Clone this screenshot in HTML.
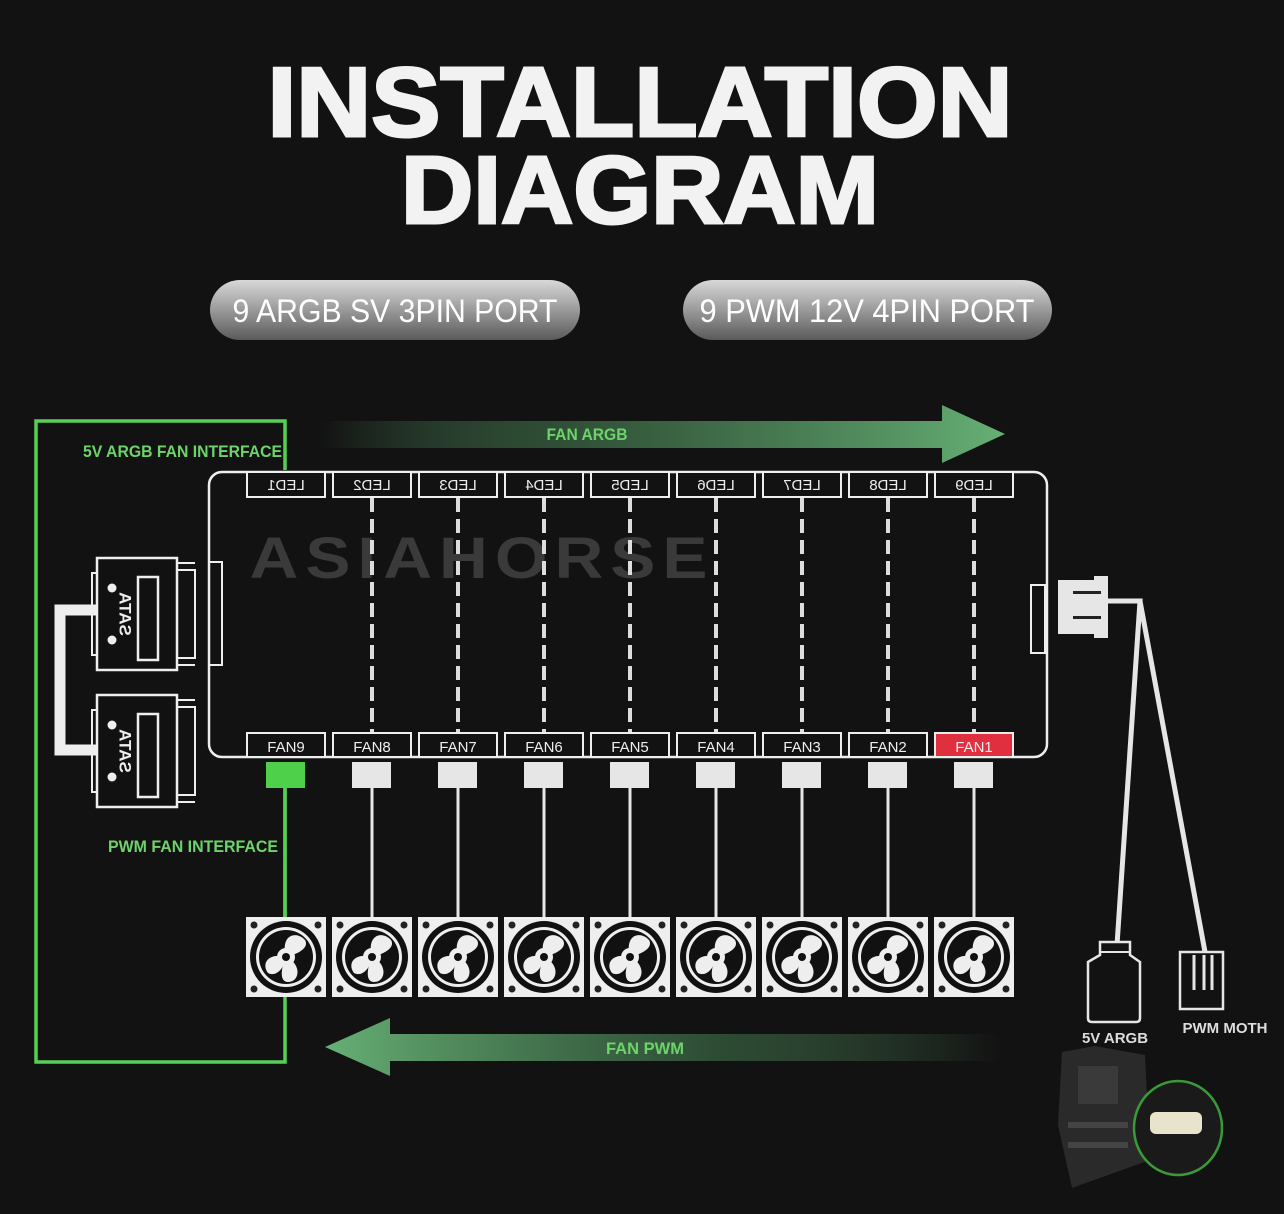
<!DOCTYPE html>
<html><head><meta charset="utf-8"><style>
html,body{margin:0;padding:0;background:#111;}
svg{display:block;}
text{font-family:"Liberation Sans",sans-serif;}
</style></head><body>
<svg width="1284" height="1214" viewBox="0 0 1284 1214" xmlns="http://www.w3.org/2000/svg">
<defs>
<linearGradient id="pill" x1="0" y1="0" x2="0" y2="1">
<stop offset="0" stop-color="#d8d8d8"/><stop offset="0.5" stop-color="#9a9a9a"/><stop offset="1" stop-color="#5a5a5a"/>
</linearGradient>
<linearGradient id="ar1" x1="0" y1="0" x2="1" y2="0">
<stop offset="0" stop-color="#5fa870" stop-opacity="0"/><stop offset="0.3" stop-color="#3e6e48" stop-opacity="0.6"/><stop offset="1" stop-color="#66b075"/>
</linearGradient>
<linearGradient id="ar2" x1="1" y1="0" x2="0" y2="0">
<stop offset="0" stop-color="#5fa870" stop-opacity="0"/><stop offset="0.4" stop-color="#3e6e48" stop-opacity="0.6"/><stop offset="1" stop-color="#66b075"/>
</linearGradient>
<g id="fan">
<rect x="-40" y="-40" width="80" height="80" fill="#eee"/>
<circle r="36" fill="#111"/>
<circle r="30" fill="#eee"/>
<circle r="27" fill="#111"/>
<path d="M0,0 C-6,-22 10,-27 19,-17 C23,-10 15,-4 0,0Z" fill="#eee"/>
<path d="M0,0 C-18,-5 -25,7 -18,16 C-11,20 -2,13 0,0Z" fill="#eee"/>
<path d="M0,0 C16,7 14,25 2,25 C-7,25 -5,11 0,0Z" fill="#eee"/>
<circle r="9" fill="#eee"/><circle r="4" fill="#111"/>
<circle cx="-32" cy="-32" r="3.5" fill="#222"/><circle cx="32" cy="-32" r="3.5" fill="#222"/>
<circle cx="-32" cy="32" r="3.5" fill="#222"/><circle cx="32" cy="32" r="3.5" fill="#222"/>
</g>
<g id="sata">
<rect x="0" y="0" width="80" height="112" fill="#111" stroke="#eee" stroke-width="2.5"/>
<rect x="-5" y="15" width="5" height="82" fill="none" stroke="#eee" stroke-width="2"/>
<rect x="41" y="19" width="20" height="83" fill="none" stroke="#eee" stroke-width="2.5"/>
<rect x="80" y="12" width="18" height="88" fill="none" stroke="#eee" stroke-width="2"/>
<line x1="80" y1="5" x2="98" y2="5" stroke="#eee" stroke-width="2"/>
<line x1="80" y1="107" x2="98" y2="107" stroke="#eee" stroke-width="2"/>
<circle cx="15" cy="30" r="4.5" fill="#eee"/><circle cx="15" cy="82" r="4.5" fill="#eee"/>
<text transform="translate(27,56) rotate(90) scale(-1,1)" font-size="17" font-weight="bold" fill="#eee" text-anchor="middle" dominant-baseline="middle">SATA</text>
</g>
</defs>
<rect width="1284" height="1214" fill="#121212"/>

<text x="640" y="136" font-size="98" font-weight="bold" fill="#f2f2f2" stroke="#f2f2f2" stroke-width="3" text-anchor="middle" textLength="745" lengthAdjust="spacingAndGlyphs">INSTALLATION</text>
<text x="640" y="223" font-size="96" font-weight="bold" fill="#f2f2f2" stroke="#f2f2f2" stroke-width="3" text-anchor="middle" textLength="478" lengthAdjust="spacingAndGlyphs">DIAGRAM</text>

<rect x="210" y="280" width="370" height="60" rx="30" fill="url(#pill)"/>
<text x="395" y="322" font-size="32" fill="#fff" text-anchor="middle" textLength="325" lengthAdjust="spacingAndGlyphs">9 ARGB SV 3PIN PORT</text>
<rect x="683" y="280" width="369" height="60" rx="30" fill="url(#pill)"/>
<text x="867" y="322" font-size="32" fill="#fff" text-anchor="middle" textLength="335" lengthAdjust="spacingAndGlyphs">9 PWM 12V 4PIN PORT</text>

<path d="M320,421 H942 V405 L1005,434 L942,463 V448 H320Z" fill="url(#ar1)"/>
<text x="587" y="440" font-size="17" font-weight="bold" fill="#6dd46a" text-anchor="middle" textLength="81" lengthAdjust="spacingAndGlyphs">FAN ARGB</text>
<path d="M1000,1034 H390 V1018 L325,1047 L390,1076 V1061 H1000Z" fill="url(#ar2)"/>
<text x="645" y="1054" font-size="17" font-weight="bold" fill="#6dd46a" text-anchor="middle" textLength="78" lengthAdjust="spacingAndGlyphs">FAN PWM</text>

<path d="M285,470 V421 H36 V1062 H285 V762" fill="none" stroke="#56d054" stroke-width="3.5"/>
<text x="282" y="457" font-size="17" font-weight="bold" fill="#6dd46a" text-anchor="end" textLength="199" lengthAdjust="spacingAndGlyphs">5V ARGB FAN INTERFACE</text>
<text x="278" y="852" font-size="17" font-weight="bold" fill="#6dd46a" text-anchor="end" textLength="170" lengthAdjust="spacingAndGlyphs">PWM FAN INTERFACE</text>

<path d="M97,610 H60 V750 H97" fill="none" stroke="#eee" stroke-width="11"/>
<use href="#sata" x="97" y="558"/>
<use href="#sata" x="97" y="695"/>

<rect x="209" y="472" width="838" height="285" rx="13" fill="#121212" stroke="#eee" stroke-width="2.5"/>
<rect x="209" y="562" width="13" height="103" fill="none" stroke="#eee" stroke-width="2"/>
<rect x="1031" y="585" width="14" height="68" fill="none" stroke="#eee" stroke-width="2"/>
<text x="482" y="578" font-size="58" font-weight="bold" fill="#3a3a3a" text-anchor="middle" textLength="465" lengthAdjust="spacingAndGlyphs" letter-spacing="6">ASIAHORSE</text>

<g stroke="#ddd" stroke-width="4" stroke-dasharray="14,7">
<line x1="372" y1="498" x2="372" y2="732"/><line x1="458" y1="498" x2="458" y2="732"/>
<line x1="544" y1="498" x2="544" y2="732"/><line x1="630" y1="498" x2="630" y2="732"/>
<line x1="716" y1="498" x2="716" y2="732"/><line x1="802" y1="498" x2="802" y2="732"/>
<line x1="888" y1="498" x2="888" y2="732"/><line x1="974" y1="498" x2="974" y2="732"/>
</g>

<g font-size="15" fill="#eee" text-anchor="middle">
<g stroke="#eee" stroke-width="2" fill="#121212">
<rect x="247" y="472" width="78" height="25"/><rect x="333" y="472" width="78" height="25"/><rect x="419" y="472" width="78" height="25"/>
<rect x="505" y="472" width="78" height="25"/><rect x="591" y="472" width="78" height="25"/><rect x="677" y="472" width="78" height="25"/>
<rect x="763" y="472" width="78" height="25"/><rect x="849" y="472" width="78" height="25"/><rect x="935" y="472" width="78" height="25"/>
</g>
<text transform="translate(286,490) scale(-1,1)">LED1</text><text transform="translate(372,490) scale(-1,1)">LED2</text>
<text transform="translate(458,490) scale(-1,1)">LED3</text><text transform="translate(544,490) scale(-1,1)">LED4</text>
<text transform="translate(630,490) scale(-1,1)">LED5</text><text transform="translate(716,490) scale(-1,1)">LED6</text>
<text transform="translate(802,490) scale(-1,1)">LED7</text><text transform="translate(888,490) scale(-1,1)">LED8</text>
<text transform="translate(974,490) scale(-1,1)">LED9</text>
</g>

<g stroke="#eee" stroke-width="2" fill="#121212">
<rect x="247" y="733" width="78" height="24"/><rect x="333" y="733" width="78" height="24"/><rect x="419" y="733" width="78" height="24"/>
<rect x="505" y="733" width="78" height="24"/><rect x="591" y="733" width="78" height="24"/><rect x="677" y="733" width="78" height="24"/>
<rect x="763" y="733" width="78" height="24"/><rect x="849" y="733" width="78" height="24"/><rect x="935" y="733" width="78" height="24" fill="#e0303f"/>
</g>
<g font-size="15" fill="#eee" text-anchor="middle">
<text x="286" y="752">FAN9</text><text x="372" y="752">FAN8</text><text x="458" y="752">FAN7</text>
<text x="544" y="752">FAN6</text><text x="630" y="752">FAN5</text><text x="716" y="752">FAN4</text>
<text x="802" y="752">FAN3</text><text x="888" y="752">FAN2</text><text x="974" y="752">FAN1</text>
</g>

<rect x="266" y="762" width="39" height="26" fill="#4fd04a"/>
<g fill="#e6e6e6">
<rect x="352" y="762" width="39" height="26"/><rect x="438" y="762" width="39" height="26"/><rect x="524" y="762" width="39" height="26"/>
<rect x="610" y="762" width="39" height="26"/><rect x="696" y="762" width="39" height="26"/><rect x="782" y="762" width="39" height="26"/>
<rect x="868" y="762" width="39" height="26"/><rect x="954" y="762" width="39" height="26"/>
</g>
<g stroke="#e6e6e6" stroke-width="3">
<line x1="372" y1="788" x2="372" y2="917"/><line x1="458" y1="788" x2="458" y2="917"/><line x1="544" y1="788" x2="544" y2="917"/>
<line x1="630" y1="788" x2="630" y2="917"/><line x1="716" y1="788" x2="716" y2="917"/><line x1="802" y1="788" x2="802" y2="917"/>
<line x1="888" y1="788" x2="888" y2="917"/><line x1="974" y1="788" x2="974" y2="917"/>
</g>
<line x1="285" y1="788" x2="285" y2="917" stroke="#56d054" stroke-width="3.5"/>

<use href="#fan" x="286" y="957"/><use href="#fan" x="372" y="957"/><use href="#fan" x="458" y="957"/>
<use href="#fan" x="544" y="957"/><use href="#fan" x="630" y="957"/><use href="#fan" x="716" y="957"/>
<use href="#fan" x="802" y="957"/><use href="#fan" x="888" y="957"/><use href="#fan" x="974" y="957"/>

<rect x="1058" y="580" width="36" height="54" fill="#e6e6e6"/>
<rect x="1094" y="576" width="14" height="62" fill="#e6e6e6"/>
<rect x="1073" y="591" width="28" height="3" fill="#222"/><rect x="1073" y="616" width="28" height="3" fill="#222"/>
<path d="M1108,601 H1140 L1117,945 M1140,601 L1205,952" fill="none" stroke="#e6e6e6" stroke-width="5"/>
<path d="M1100,942 H1130 V955 L1140,962 V1018 Q1140,1022 1136,1022 H1092 Q1088,1022 1088,1018 V962 L1100,955Z" fill="#121212" stroke="#e6e6e6" stroke-width="2.5"/>
<line x1="1100" y1="952" x2="1130" y2="952" stroke="#e6e6e6" stroke-width="2"/>
<rect x="1180" y="952" width="43" height="57" fill="#121212" stroke="#e6e6e6" stroke-width="2.5"/>
<line x1="1194" y1="955" x2="1194" y2="990" stroke="#e6e6e6" stroke-width="3"/>
<line x1="1204" y1="955" x2="1204" y2="990" stroke="#e6e6e6" stroke-width="3"/>
<line x1="1212" y1="955" x2="1212" y2="990" stroke="#e6e6e6" stroke-width="3"/>

<path d="M1062,1052 L1095,1046 L1145,1055 L1150,1160 L1072,1188 L1058,1125Z" fill="#2a2a2a"/>
<rect x="1078" y="1066" width="40" height="38" fill="#3a3a3a"/>
<rect x="1068" y="1122" width="60" height="6" fill="#444"/><rect x="1068" y="1142" width="60" height="6" fill="#444"/>
<ellipse cx="1178" cy="1128" rx="44" ry="47" fill="#1a1a1a" stroke="#3a9a3a" stroke-width="2.5"/>
<rect x="1150" y="1112" width="52" height="22" rx="6" fill="#e8e4cc"/>
<text x="1115" y="1043" font-size="15" font-weight="bold" fill="#ddd" text-anchor="middle">5V ARGB</text>
<text x="1225" y="1033" font-size="15" font-weight="bold" fill="#ddd" text-anchor="middle">PWM MOTH</text>
</svg>
</body></html>
